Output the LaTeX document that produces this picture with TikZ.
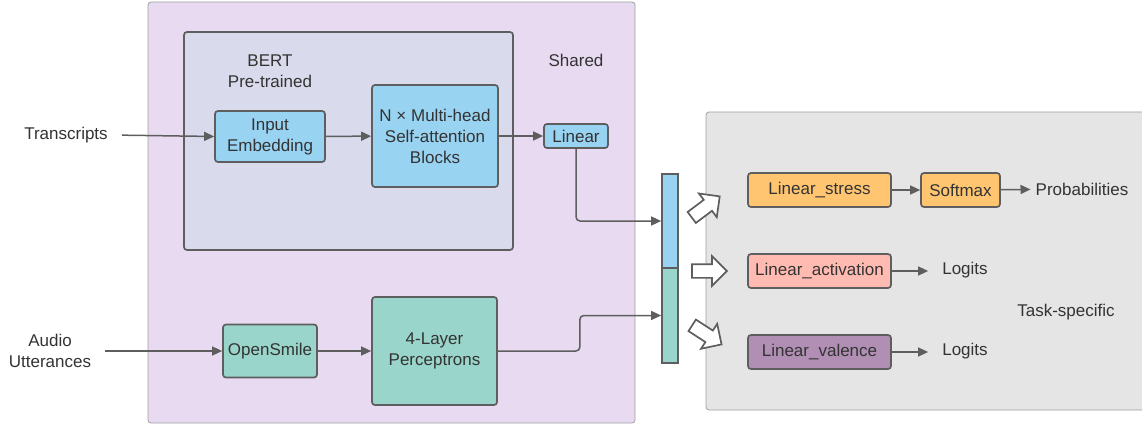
\documentclass[tikz,border=0pt]{standalone}
\usepackage{fontspec}
\setmainfont{Liberation Sans}
\definecolor{edgegrey}{RGB}{94, 94, 94}
\definecolor{framegrey}{RGB}{160, 160, 160}
\definecolor{textgrey}{RGB}{51, 51, 51}
\definecolor{sharedpurple}{RGB}{232, 218, 241}
\definecolor{bertgrey}{RGB}{217, 218, 236}
\definecolor{taskgrey}{RGB}{229, 229, 229}
\definecolor{encblue}{RGB}{153, 211, 242}
\definecolor{audiogreen}{RGB}{153, 213, 202}
\definecolor{stressorange}{RGB}{255, 197, 113}
\definecolor{actpink}{RGB}{255, 186, 177}
\definecolor{valpurple}{RGB}{177, 143, 181}
\usepackage{tikz}
\usetikzlibrary{shapes, shapes.arrows, arrows.meta, positioning, calc}

\begin{document}
\begin{tikzpicture}[x=1pt, y=-1pt,
  font=\fontsize{17}{21}\selectfont, text=textgrey,
  frame/.style={draw=framegrey, line width=0.8pt, rounded corners=3pt, inner sep=0pt},
  block/.style={draw=edgegrey, line width=1.7pt, rounded corners=3pt, inner sep=0pt, align=center},
  label/.style={inner sep=3pt, align=center},
  arr/.style={draw=edgegrey, line width=1.5pt, -{Triangle[length=10pt, width=9pt]}},
  hollow/.style={single arrow, draw=edgegrey, line width=1.7pt, fill=white, inner xsep=0pt, inner ysep=6pt,
    minimum height=35pt, single arrow head extend=8pt}]
  \useasboundingbox (0,0) rectangle (1142,425);

  % Containers
  \node[frame, fill=sharedpurple, minimum width=487pt, minimum height=421pt] (shared) at (391.5, 212.5) {};
  \node[frame, fill=taskgrey, minimum width=445pt, minimum height=298pt] (task) at (928.5, 261) {};
  \node[block, fill=bertgrey, minimum width=329pt, minimum height=218pt] (bert) at (348.5, 141) {};

  % Labels
  \node[label] (bertlabel) at (270, 71) {BERT\\Pre-trained};
  \node[label] (sharedlabel) at (576, 60) {Shared};
  \node[label] (tasklabel) at (1066, 312) {Task-specific};
  \node[label] (transcripts) at (66, 135) {Transcripts};
  \node[label] (audio) at (50, 351) {Audio\\Utterances};

  % Text branch
  \node[block, fill=encblue, minimum width=110pt, minimum height=51pt] (emb) at (270, 136.5) {Input\\Embedding};
  \node[block, fill=encblue, minimum width=126pt, minimum height=102pt] (mha) at (435, 136) {N × Multi-head\\Self-attention\\Blocks};
  \node[block, fill=encblue, minimum width=64pt, minimum height=24pt] (linear) at (576, 136) {Linear};

  % Audio branch
  \node[block, fill=audiogreen, minimum width=94pt, minimum height=53pt] (opensmile) at (270, 351) {OpenSmile};
  \node[block, fill=audiogreen, minimum width=125pt, minimum height=108pt] (mlp) at (434.5, 351) {4-Layer\\Perceptrons};

  % Concatenated feature
  \node[draw=edgegrey, line width=1.7pt, fill=encblue, inner sep=0pt, minimum width=16pt, minimum height=94pt] (bartop) at (670, 221) {};
  \node[draw=edgegrey, line width=1.7pt, fill=audiogreen, inner sep=0pt, minimum width=16pt, minimum height=95pt] (barbot) at (670, 315.5) {};

  % Heads
  \node[hollow, rotate=37] (hollow1) at (703, 209) {};
  \node[hollow] (hollow2) at (706, 271) {};
  \node[hollow, rotate=-33] (hollow3) at (704, 333) {};

  \node[block, fill=stressorange, minimum width=143pt, minimum height=34pt] (stress) at (819.5, 190) {Linear\_stress};
  \node[block, fill=stressorange, minimum width=79pt, minimum height=34pt] (softmax) at (960.5, 190) {Softmax};
  \node[block, fill=actpink, minimum width=143pt, minimum height=34pt] (activation) at (819.5, 271) {Linear\_activation};
  \node[block, fill=valpurple, minimum width=143pt, minimum height=34pt] (valence) at (819.5, 352) {Linear\_valence};

  \node[label] (prob) at (1082, 189) {Probabilities};
  \node[label] (logitsact) at (965, 270) {Logits};
  \node[label] (logitsval) at (965, 351) {Logits};

  % Connectors
  \draw[arr, shorten <=11pt] (transcripts.east) -- (emb.west);
  \draw[arr] (emb) -- (mha);
  \draw[arr] (mha) -- (linear);
  \draw[arr, rounded corners=4pt] (linear.south) |- (bartop.west);
  \draw[arr, shorten <=11pt] (audio.east |- opensmile.west) -- (opensmile.west);
  \draw[arr] (opensmile) -- (mlp);
  \draw[arr, rounded corners=4pt] (mlp.east) -- ++(82, 0) |- (barbot.west);
  \draw[arr] (stress) -- (softmax);
  \draw[arr, shorten >=2pt] (softmax) -- (prob);
  \draw[arr, shorten >=11pt] (activation.east) -- (logitsact.west |- activation.east);
  \draw[arr, shorten >=11pt] (valence.east) -- (logitsval.west |- valence.east);
\end{tikzpicture}
\end{document}
